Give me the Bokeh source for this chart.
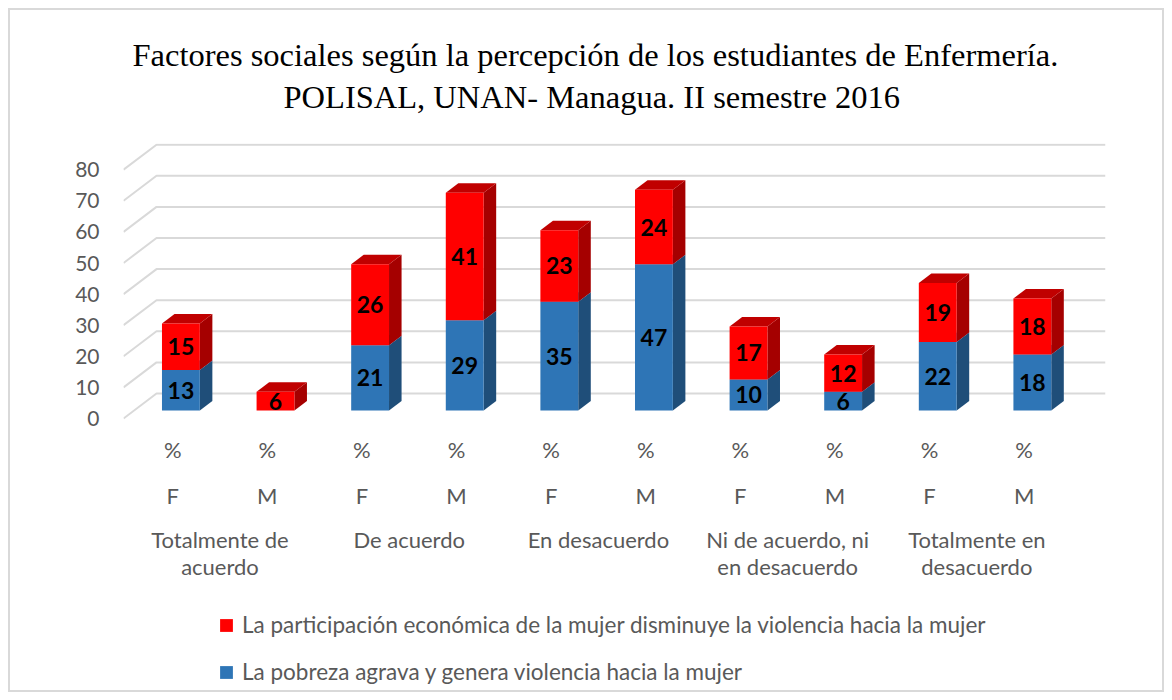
import numpy as np
from bokeh.plotting import figure
from bokeh.models import (Range1d, FixedTicker, Legend, LegendItem,
                          ColumnDataSource, Title)
from bokeh.core.properties import value
from bokeh.embed import file_html
from bokeh.resources import INLINE

# ---------------- data ----------------
title_lines = ["Factores sociales según la percepción de los estudiantes de Enfermería.",
               "POLISAL, UNAN- Managua. II semestre 2016"]
groups = ["Totalmente de\nacuerdo", "De acuerdo", "En desacuerdo",
          "Ni de acuerdo, ni\nen desacuerdo", "Totalmente en\ndesacuerdo"]
sexes = ["F", "M"]
unit_label = "%"
series_names = ["La participación económica de la mujer disminuye la violencia hacia la mujer",
                "La pobreza agrava y genera violencia hacia la mujer"]
pobreza = [13, 0, 21, 29, 35, 47, 10, 6, 22, 18]
participacion = [15, 6, 26, 41, 23, 24, 17, 12, 19, 18]
y_ticks = [0, 10, 20, 30, 40, 50, 60, 70, 80]

# ---------------- geometry / style ----------------
FW, FH = 982, 547             # plotting frame size (includes category rows + legend)
PX = 3.11                     # pixels per value unit
X0, X1 = -0.02, 10.36
Y1 = 88.43
Y0 = Y1 - FH / PX
DX, DY = 0.349, 8.04          # wall depth projection (data units)
D_FRONT, D_BACK = 0.32, 0.70  # bar depth position as fraction of wall depth
BAR_SHIFT = -0.025
BAR_W = 0.40
ROW_PCT, ROW_SEX, ROW_G1, ROW_G2 = 31, 77, 121, 148   # px below front baseline
GRID = "#D9D9D9"
TXT = "#595959"
FONT = "Lato"

BLUE = ("#2E75B6", "#1F4E79", "#5B9BD5")   # front, side, top
RED = ("#FF0000", "#A50000", "#C00000")

n = len(pobreza)
cat_x = np.arange(n) + 0.5
grp_x = np.arange(len(groups)) * 2 + 1.0

p = figure(frame_width=FW, frame_height=FH, x_range=Range1d(X0, X1), y_range=Range1d(Y0, Y1),
           output_backend="svg", toolbar_location=None, x_axis_location=None,
           min_border_left=113, min_border_right=57,
           min_border_top=133, min_border_bottom=0)
p.margin = (8, 0, 0, 8)
p.styles = {"border": "2px solid #D9D9D9"}
p.outline_line_color = None
p.xgrid.visible = False
p.ygrid.visible = False

def style_title(t, standoff, offset, size="32.5px"):
    t.align = "left"
    t.offset = offset
    t.text_font = "Liberation Serif"
    t.text_font_size = size
    t.text_font_style = "normal"
    t.text_color = "black"
    t.standoff = standoff
    return t

p.title.text = title_lines[0]
style_title(p.title, 4, 9)
# spacer between frame and the title block
p.add_layout(style_title(Title(text=" "), 14, 0, size="10px"), "above")
p.add_layout(style_title(Title(text=title_lines[1]), 4, 160), "above")

# y axis
ya = p.yaxis[0]
ya.ticker = FixedTicker(ticks=y_ticks, minor_ticks=[])
ya.axis_line_color = None
ya.major_tick_line_color = None
ya.minor_tick_line_color = None
ya.major_label_text_font = FONT
ya.major_label_text_font_size = "21px"
ya.major_label_text_color = TXT
ya.major_label_standoff = 18

# gridlines (back wall with diagonal to front)
gx = [[X0, X0 + DX, X1] for t in y_ticks]
gy = [[t, t + DY, t + DY] for t in y_ticks]
p.multi_line(gx, gy, line_color=GRID, line_width=2)

# bars
pob = np.array(pobreza, float)
par = np.array(participacion, float)
segments = [(np.zeros(n), pob, BLUE), (pob, pob + par, RED)]
ddx = (D_BACK - D_FRONT) * DX
ddy = (D_BACK - D_FRONT) * DY
front_renderers = []
for base, top, cols in segments:
    m = (top - base) > 0
    cx = cat_x[m] + D_FRONT * DX + BAR_SHIFT
    left = cx - BAR_W / 2
    right = cx + BAR_W / 2
    b = base[m] + D_FRONT * DY
    t = top[m] + D_FRONT * DY
    side_xs = [[r, r + ddx, r + ddx, r] for r in right]
    side_ys = [[bb, bb + ddy, tt + ddy, tt] for bb, tt in zip(b, t)]
    top_xs = [[l, r, r + ddx, l + ddx] for l, r in zip(left, right)]
    top_ys = [[tt, tt, tt + ddy, tt + ddy] for tt in t]
    p.patches(side_xs, side_ys, fill_color=cols[1], line_color=None)
    p.patches(top_xs, top_ys, fill_color=cols[2], line_color=None)
    r = p.quad(left=left, right=right, bottom=b, top=t, fill_color=cols[0], line_color=None)
    front_renderers.append(r)
    src = ColumnDataSource(dict(x=cx, y=(b + t) / 2,
                                txt=[str(int(v)) for v in (top - base)[m]]))
    p.text(x="x", y="y", text="txt", source=src, text_align="center",
           text_baseline="middle", text_font=value(FONT), text_font_style="bold",
           text_font_size="23px", text_color="black")

# category label rows (under the chart floor)
def label_row(xs, labels, row_px):
    src = ColumnDataSource(dict(x=list(xs), y=[-row_px / PX] * len(xs), txt=list(labels)))
    p.text(x="x", y="y", text="txt", source=src, text_align="center",
           text_baseline="middle", text_font=value(FONT), text_font_size="22px",
           text_color=TXT)

label_row(cat_x, [unit_label] * n, ROW_PCT)
label_row(cat_x, [sexes[i % 2] for i in range(n)], ROW_SEX)
g_lines = [g.split("\n") for g in groups]
label_row(grp_x, [gl[0] for gl in g_lines], ROW_G1)
g2 = [(x, gl[1]) for x, gl in zip(grp_x, g_lines) if len(gl) > 1]
label_row([x for x, _ in g2], [s for _, s in g2], ROW_G2)

legend = Legend(items=[LegendItem(label=series_names[0], renderers=[front_renderers[1]]),
                       LegendItem(label=series_names[1], renderers=[front_renderers[0]])],
                location=(95, 5), orientation="vertical", padding=0, margin=0,
                glyph_width=16, glyph_height=16, label_standoff=8, spacing=20,
                label_height=25, label_text_font=FONT, label_text_font_size="22.5px",
                label_text_color=TXT, border_line_color=None, background_fill_alpha=0)
p.add_layout(legend, "center")

open("out.html", "w").write(file_html(p, INLINE))
